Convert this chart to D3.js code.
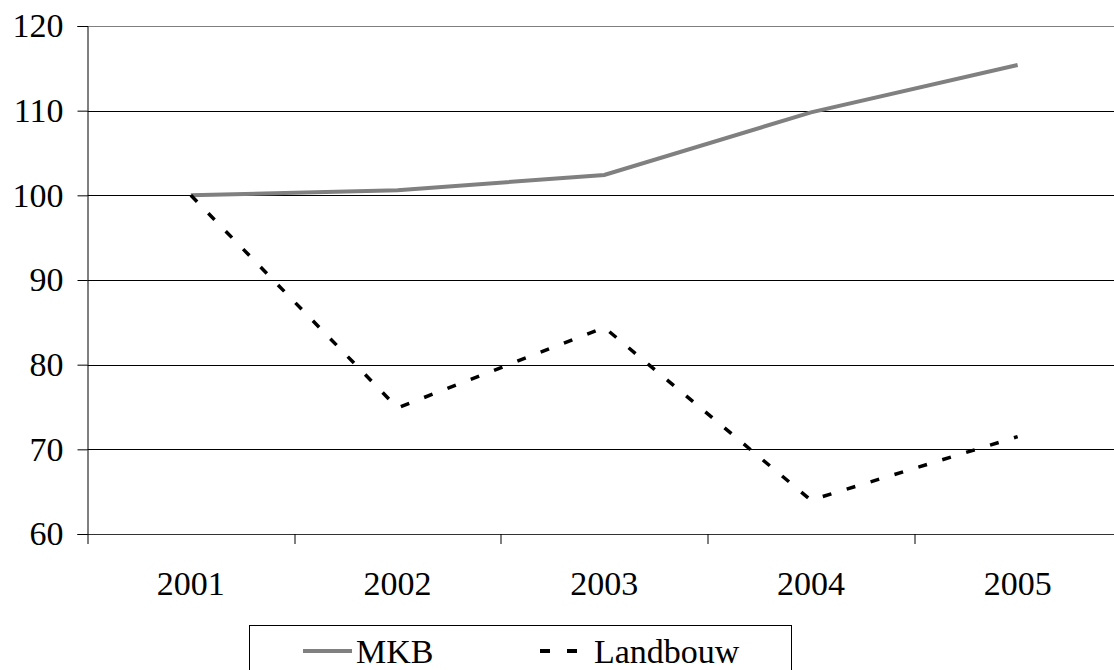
<!DOCTYPE html>
<html>
<head>
<meta charset="utf-8">
<script src="https://cdn.jsdelivr.net/npm/d3@7"></script>
<style>
  body { margin: 0; background: #fff; }
  svg text { font-family: "Liberation Serif", "Times New Roman", Tinos, "DejaVu Serif", serif !important; }
</style>
</head>
<body>
<svg id="chart"></svg>
<script>
// data
const years = ['2001', '2002', '2003', '2004', '2005'];
const mkb = [100, 100.6, 102.4, 109.8, 115.4];
const landbouw = [100, 74.9, 84.4, 64.0, 71.5];
const yTicks = [60, 70, 80, 90, 100, 110, 120];

const W = 1114, H = 670;
const margin = { top: 26, right: -7, bottom: 136, left: 87.5 };
const width = W - margin.left - margin.right;
const height = H - margin.top - margin.bottom;

const svg = d3.select('#chart')
    .attr('width', W)
    .attr('height', H);

const g = svg.append('g')
    .attr('transform', `translate(${margin.left},${margin.top})`);

const x = d3.scaleBand()
    .domain(years)
    .range([0, width]);

const y = d3.scaleLinear()
    .domain([60, 120])
    .range([height, 0]);

// gridlines
g.append('g')
    .selectAll('line')
    .data(yTicks)
    .enter().append('line')
    .attr('x1', 0)
    .attr('x2', width)
    .attr('y1', d => Math.round(y(d)) + 0.5)
    .attr('y2', d => Math.round(y(d)) + 0.5)
    .attr('stroke', d => d === 120 ? '#808080' : '#000')
    .attr('stroke-width', 1);

// y axis
const yAxis = g.append('g')
    .call(d3.axisLeft(y).tickValues(yTicks).tickSize(10).tickPadding(14));
yAxis.select('.domain').attr('stroke', '#000');
yAxis.selectAll('.tick line').attr('stroke', '#000');
yAxis.selectAll('text')
    .attr('font-size', 34)
    .attr('fill', '#000');

// x axis: ticks on band boundaries, labels centred in bands
const xAxis = g.append('g')
    .attr('transform', `translate(0,${height})`);
xAxis.append('line')
    .attr('x1', 0).attr('x2', width)
    .attr('y1', 0.5).attr('y2', 0.5)
    .attr('stroke', '#333');
xAxis.selectAll('.tk')
    .data(years.concat(['end']))
    .enter().append('line')
    .attr('class', 'tk')
    .attr('x1', (d, i) => Math.round(i * x.step()) + 0.5)
    .attr('x2', (d, i) => Math.round(i * x.step()) + 0.5)
    .attr('y1', 0)
    .attr('y2', 10)
    .attr('stroke', '#000');
xAxis.selectAll('text')
    .data(years)
    .enter().append('text')
    .attr('x', d => x(d) + x.bandwidth() / 2)
    .attr('y', 61)
    .attr('text-anchor', 'middle')
    .attr('font-size', 34)
    .text(d => d);

const line = d3.line()
    .x((d, i) => x(years[i]) + x.bandwidth() / 2)
    .y(d => y(d));

g.append('path')
    .datum(mkb)
    .attr('d', line)
    .attr('fill', 'none')
    .attr('stroke', '#808080')
    .attr('stroke-width', 4);

g.append('path')
    .datum(landbouw)
    .attr('d', line)
    .attr('fill', 'none')
    .attr('stroke', '#000')
    .attr('stroke-width', 3.5)
    .attr('stroke-dasharray', '9,16');

// legend
const legend = svg.append('g');
legend.append('rect')
    .attr('x', 249.5)
    .attr('y', 625.5)
    .attr('width', 542)
    .attr('height', 60)
    .attr('fill', '#fff')
    .attr('stroke', '#000');

legend.append('line')
    .attr('x1', 303).attr('x2', 352)
    .attr('y1', 651).attr('y2', 651)
    .attr('stroke', '#808080')
    .attr('stroke-width', 4);
legend.append('text')
    .attr('x', 356).attr('y', 663)
    .attr('font-size', 34)
    .text('MKB');

legend.append('line')
    .attr('x1', 540).attr('x2', 577)
    .attr('y1', 651).attr('y2', 651)
    .attr('stroke', '#000')
    .attr('stroke-width', 4)
    .attr('stroke-dasharray', '10,17');
legend.append('text')
    .attr('x', 594).attr('y', 663)
    .attr('font-size', 34)
    .text('Landbouw');
</script>
</body>
</html>
